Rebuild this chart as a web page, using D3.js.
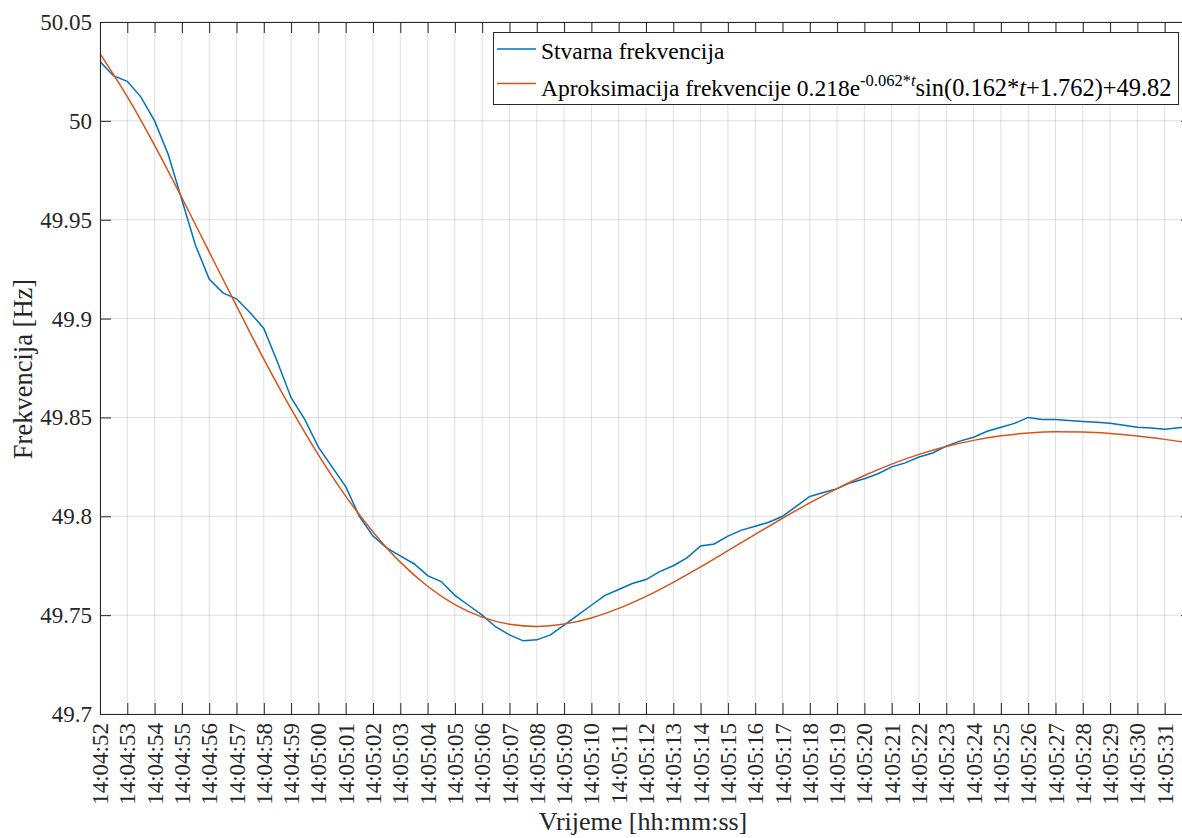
<!DOCTYPE html>
<html>
  <head>
    <meta charset="utf-8">
    <title>Frekvencija</title>
    <script src="https://d3js.org/d3.v7.min.js"></script>
    <style>
      body { margin: 0; background: #fff; }
      svg { display: block; }
      svg text { font-family: "Liberation Serif", "Times New Roman", serif; }
    </style>
  </head>
  <body>
  <svg id="chart" width="1182" height="838"></svg>
  <script>
    // pocetak mjerenja 14:04:52, uzorci svakih 0.5 s
    var startTime = new Date(2020, 0, 1, 14, 4, 52);
    var durationSec = 40;

    var realTimes = d3.range(0, 40.5, 0.5);
    var realFreq = [
      50.030, 50.0227, 50.020, 50.012, 50.000, 49.983, 49.960, 49.937, 49.920, 49.913,
      49.910, 49.903, 49.895, 49.878, 49.860, 49.849, 49.835, 49.825, 49.815, 49.800,
      49.790, 49.784, 49.780, 49.776, 49.770, 49.767, 49.760, 49.755, 49.750, 49.744,
      49.740, 49.737, 49.7375, 49.740, 49.745, 49.750, 49.755, 49.760, 49.763, 49.766,
      49.768, 49.772, 49.775, 49.779, 49.785, 49.786, 49.790, 49.793, 49.795, 49.797,
      49.800, 49.805, 49.810, 49.812, 49.814, 49.817, 49.819, 49.8215, 49.825, 49.827,
      49.830, 49.832, 49.8355, 49.838, 49.840, 49.843, 49.845, 49.847, 49.850, 49.849,
      49.849, 49.8485, 49.848, 49.8475, 49.847, 49.846, 49.845, 49.8447, 49.844, 49.8448,
      49.8452
    ];

    // aproksimacija, ocitano svake sekunde
    var fitTimes = d3.range(0, 41, 1);
    var fitFreq = [
      50.0340, 50.0122, 49.9876, 49.9611, 49.9337, 49.9064, 49.8795, 49.8543, 49.8311, 49.8102,
      49.7921, 49.7768, 49.7646, 49.7553, 49.7490, 49.7454, 49.7443, 49.7455, 49.7486, 49.7534,
      49.7595, 49.7666, 49.7744, 49.7826, 49.7909, 49.7990, 49.8068, 49.8140, 49.8206, 49.8264,
      49.8313, 49.8353, 49.8384, 49.8407, 49.8421, 49.8427, 49.8426, 49.8419, 49.8406, 49.8389,
      49.8369
    ];

    var yTicks = [49.7, 49.75, 49.8, 49.85, 49.9, 49.95, 50, 50.05];

    var seriesNames = ["Stvarna frekvencija", "Aproksimacija frekvencije"];
    var colors = ["#0072BD", "#D95319"];

    var margin = { top: 22, left: 100 };
    var width = 1092;
    var height = 692;
    var axisColor = "#262626";
    var tickLen = 11;
    var serif = "'Liberation Serif', 'Times New Roman', serif";

    var svg = d3.select("#chart");
    var g = svg.append("g")
      .attr("transform", "translate(" + margin.left + "," + margin.top + ")");

    var toDate = function(s) { return new Date(startTime.getTime() + s * 1000); };

    var x = d3.scaleTime()
      .domain([startTime, toDate(durationSec)])
      .range([0, width]);

    var y = d3.scaleLinear()
      .domain([49.7, 50.05])
      .range([height, 0]);

    var xTicks = x.ticks(d3.timeSecond.every(1));
    var fmtTime = d3.timeFormat("%H:%M:%S");
    var fmtY = function(d) { return String(+d.toFixed(2)); };

    // grid
    g.append("g").selectAll("line")
      .data(xTicks)
      .join("line")
      .attr("x1", function(d) { return x(d); })
      .attr("x2", function(d) { return x(d); })
      .attr("y1", 0)
      .attr("y2", height)
      .attr("stroke", axisColor)
      .attr("stroke-opacity", 0.15);

    g.append("g").selectAll("line")
      .data(yTicks)
      .join("line")
      .attr("x1", 0)
      .attr("x2", width)
      .attr("y1", function(d) { return y(d); })
      .attr("y2", function(d) { return y(d); })
      .attr("stroke", axisColor)
      .attr("stroke-opacity", 0.15);

    // linije
    g.append("clipPath").attr("id", "clip")
      .append("rect").attr("width", width).attr("height", height);

    var lineReal = d3.line()
      .x(function(d, i) { return x(toDate(realTimes[i])); })
      .y(function(d) { return y(d); });

    var lineFit = d3.line()
      .x(function(d, i) { return x(toDate(fitTimes[i])); })
      .y(function(d) { return y(d); })
      .curve(d3.curveMonotoneX);

    var plot = g.append("g").attr("clip-path", "url(#clip)");
    plot.append("path")
      .datum(realFreq)
      .attr("d", lineReal)
      .attr("fill", "none")
      .attr("stroke", colors[0])
      .attr("stroke-width", 1.5);
    plot.append("path")
      .datum(fitFreq)
      .attr("d", lineFit)
      .attr("fill", "none")
      .attr("stroke", colors[1])
      .attr("stroke-width", 1.5);

    // osi (MATLAB stil, ticks prema unutra)
    var xAxis = d3.axisBottom(x).tickValues(xTicks).tickSize(-tickLen).tickFormat("");
    var xAxisTop = d3.axisTop(x).tickValues(xTicks).tickSize(-tickLen).tickFormat("");
    var yAxis = d3.axisLeft(y).tickValues(yTicks).tickSize(-tickLen).tickFormat("");
    var yAxisRight = d3.axisRight(y).tickValues(yTicks).tickSize(-tickLen).tickFormat("");

    g.append("g").attr("transform", "translate(0," + height + ")").call(xAxis);
    g.append("g").call(xAxisTop);
    g.append("g").call(yAxis);
    g.append("g").attr("transform", "translate(" + width + ",0)").call(yAxisRight);

    g.selectAll(".domain").attr("stroke", axisColor);
    g.selectAll(".tick line").attr("stroke", axisColor);

    // x tick labels, rotirano (samo one koje stanu u sliku)
    g.append("g").selectAll("text")
      .data(xTicks.filter(function(d) { return x(d) + margin.left < 1180; }))
      .join("text")
      .attr("transform", function(d) { return "translate(" + (x(d) + 8) + "," + (height + 9) + ") rotate(-90)"; })
      .attr("text-anchor", "end")
      .attr("font-family", serif)
      .attr("font-size", 23)
      .attr("fill", axisColor)
      .text(function(d) { return fmtTime(d); });

    // y tick labels
    g.append("g").selectAll("text")
      .data(yTicks)
      .join("text")
      .attr("x", -8)
      .attr("y", function(d) { return y(d) + 8; })
      .attr("text-anchor", "end")
      .attr("font-family", serif)
      .attr("font-size", 23)
      .attr("fill", axisColor)
      .text(fmtY);

    // naslovi osi
    svg.append("text")
      .attr("x", 643)
      .attr("y", 830)
      .attr("text-anchor", "middle")
      .attr("font-family", serif)
      .attr("font-size", 26)
      .attr("fill", axisColor)
      .text("Vrijeme [hh:mm:ss]");

    svg.append("text")
      .attr("transform", "translate(32,369) rotate(-90)")
      .attr("text-anchor", "middle")
      .attr("font-family", serif)
      .attr("font-size", 26.5)
      .attr("fill", axisColor)
      .text("Frekvencija [Hz]");

    // legenda
    var leg = svg.append("g");
    leg.append("rect")
      .attr("x", 493.5)
      .attr("y", 32.5)
      .attr("width", 685)
      .attr("height", 72)
      .attr("fill", "#fff")
      .attr("stroke", axisColor);

    var legY = [49, 83.5];
    var legBase = [58.5, 96];
    leg.selectAll("line")
      .data(seriesNames)
      .join("line")
      .attr("x1", 497)
      .attr("x2", 536)
      .attr("y1", function(d, i) { return legY[i]; })
      .attr("y2", function(d, i) { return legY[i]; })
      .attr("stroke", function(d, i) { return colors[i]; })
      .attr("stroke-width", 1.5);

    leg.append("text")
      .attr("x", 541)
      .attr("y", legBase[0])
      .attr("font-family", serif)
      .attr("font-size", 23.5)
      .attr("fill", "#000")
      .text(seriesNames[0]);

    var t2 = leg.append("text")
      .attr("x", 541)
      .attr("y", legBase[1])
      .attr("font-family", serif)
      .attr("font-size", 23.5)
      .attr("fill", "#000");
    t2.append("tspan").text(seriesNames[1] + " 0.218e");
    t2.append("tspan").attr("dy", -10).attr("font-size", 16.5).text("-0.062*");
    t2.append("tspan").attr("font-size", 16.5).attr("font-style", "italic").text("t");
    t2.append("tspan").attr("dy", 10).attr("font-size", 24.4).text("sin(0.162*");
    t2.append("tspan").attr("font-size", 24.4).attr("font-style", "italic").text("t");
    t2.append("tspan").attr("font-size", 24.4).text("+1.762)+49.82");
  </script>
  </body>
</html>
